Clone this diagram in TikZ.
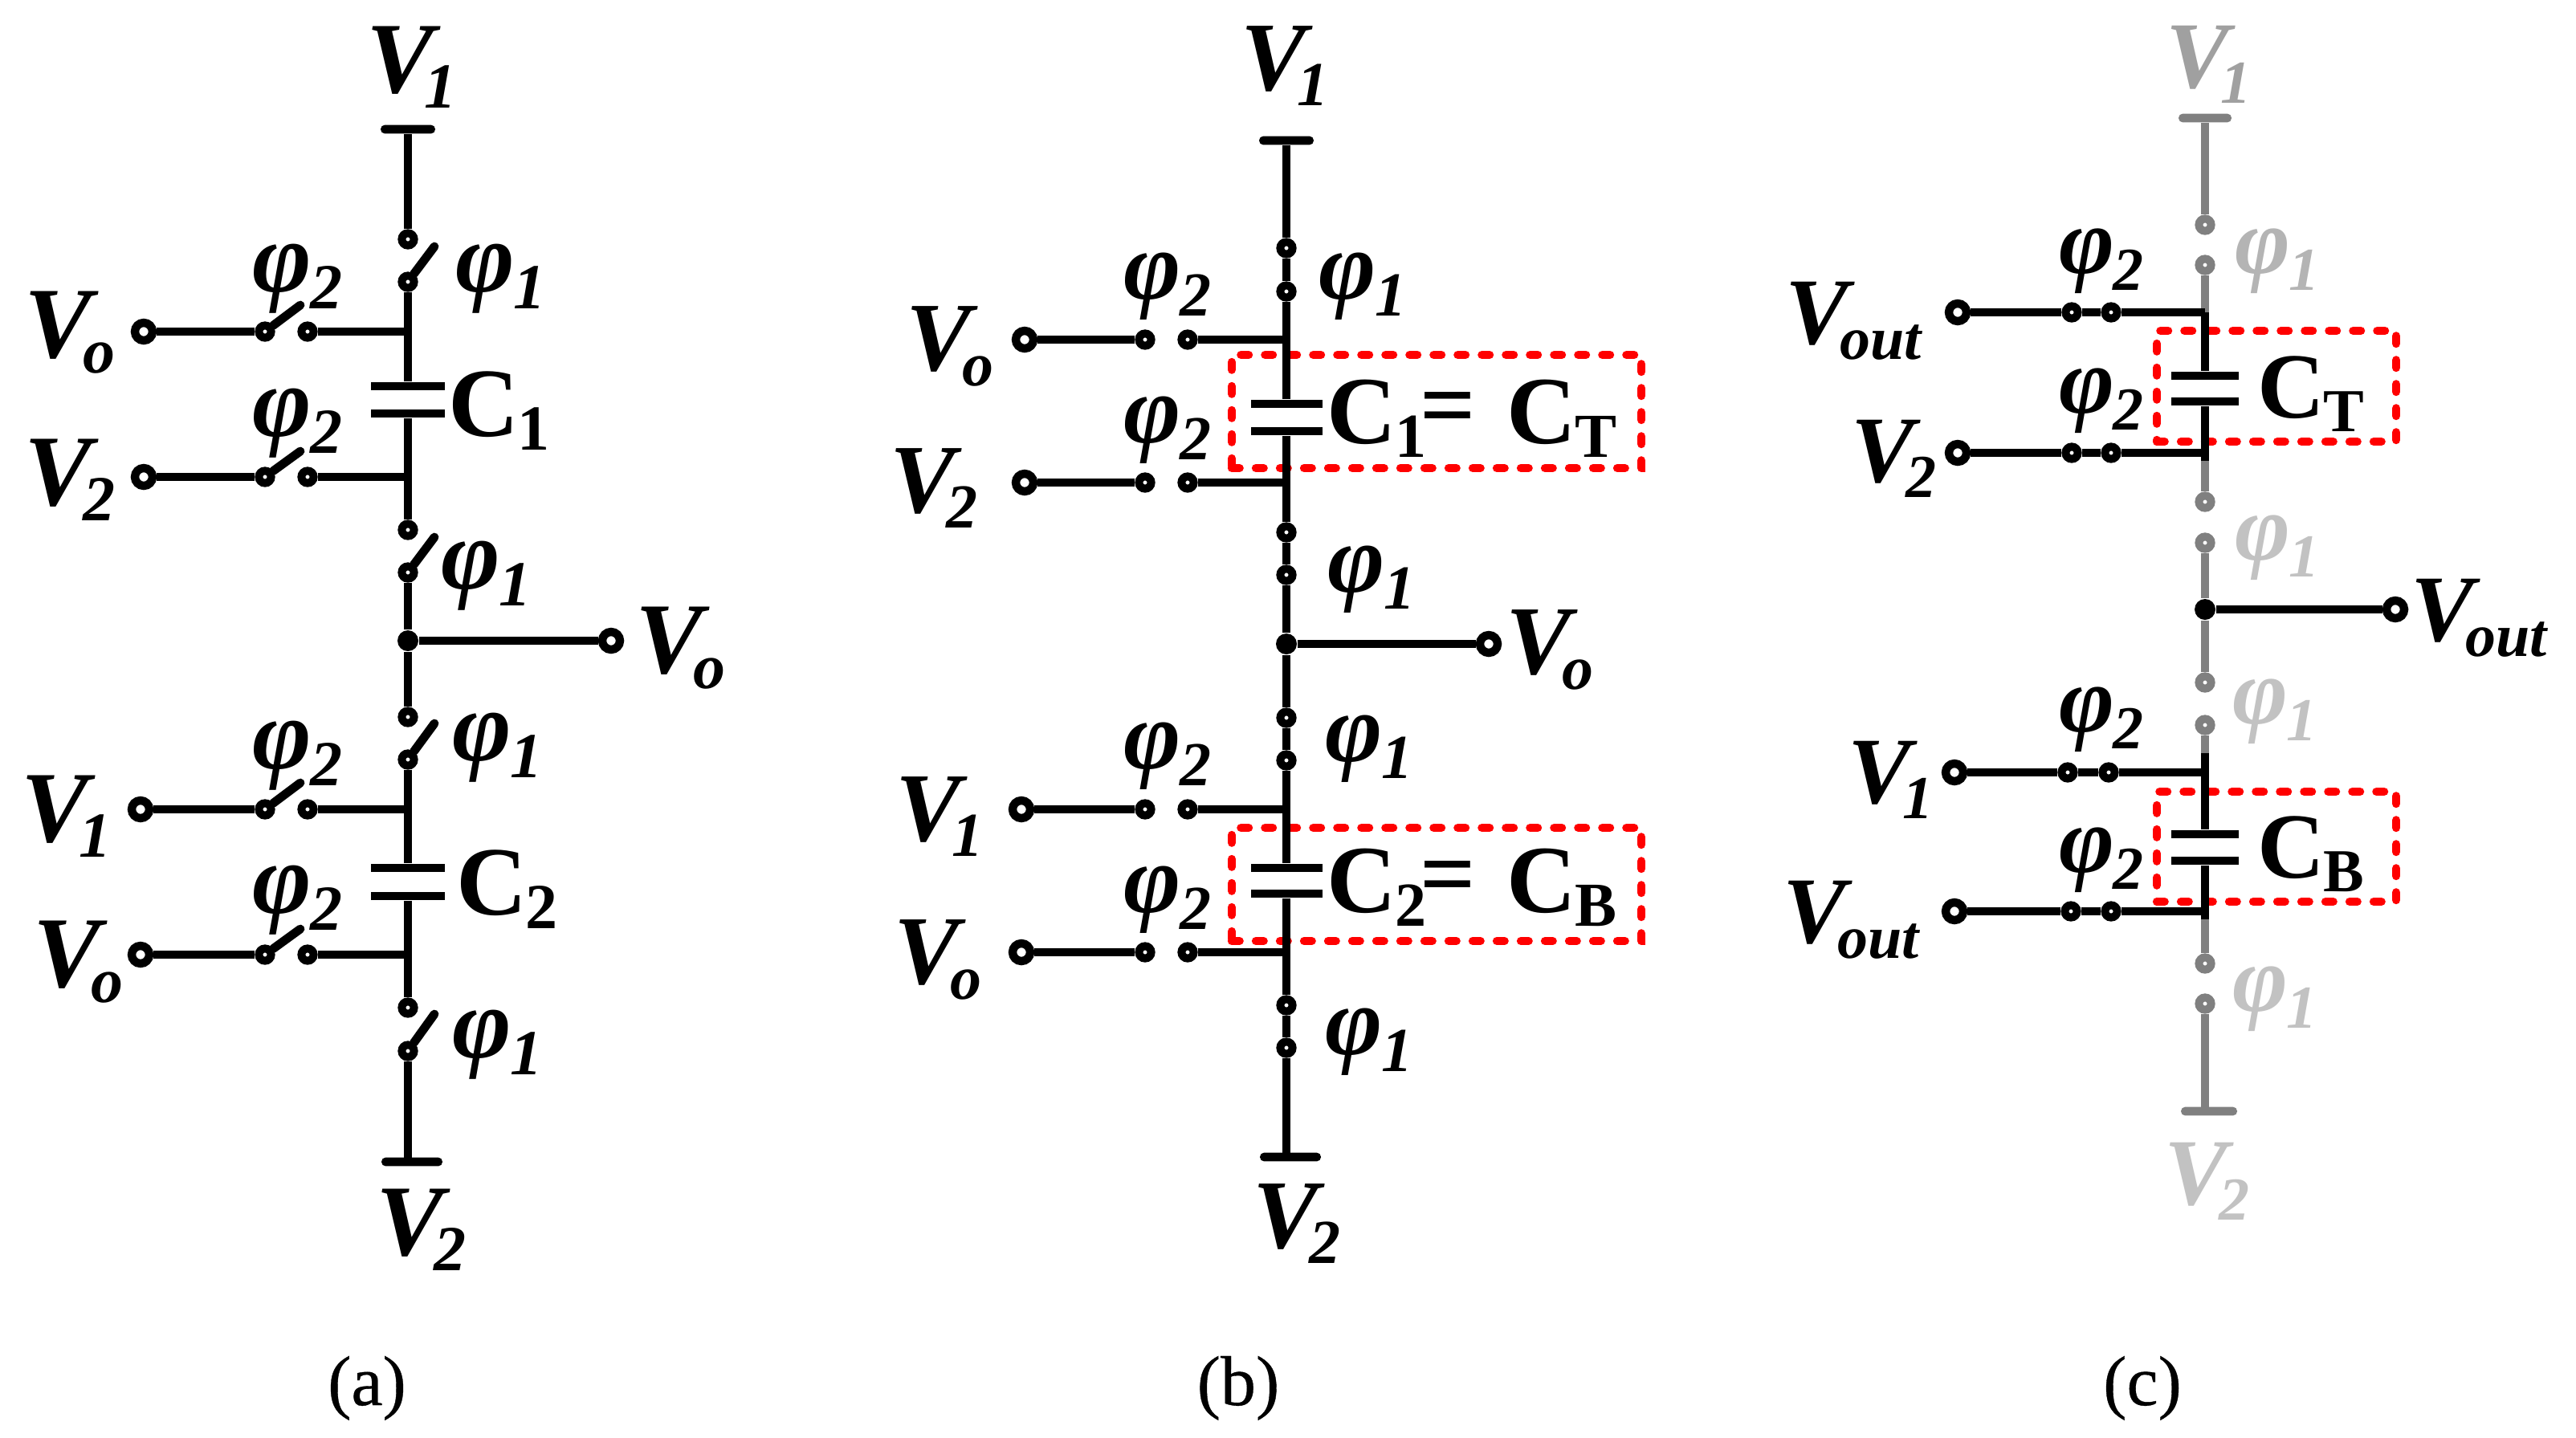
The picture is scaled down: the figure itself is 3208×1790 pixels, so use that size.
\documentclass[tikz,border=0pt]{standalone}
\usepackage{fontspec}
\setmainfont{Liberation Serif}
\newfontfamily\capf[FakeBold=0.4]{Liberation Serif}
\usetikzlibrary{calc}
\newcommand\setp[3]{\gdef\bigf{\fontsize{#1}{#1}\selectfont}\gdef\smf{\fontsize{#2}{#2}\selectfont}\gdef\cf{\fontsize{#3}{#3}\selectfont}}
\newcommand\VL[1]{\bigf\bfseries\itshape V\kern-.09em\raisebox{-4.75pt}{\smf #1}}
\newcommand\PH[1]{\bigf\bfseries\itshape φ\kern-.01em\raisebox{-5.25pt}{\smf #1}}
\newcommand\CP[1]{\cf\bfseries C\kern-.01em\raisebox{-4.25pt}{\smf #1}}
\definecolor{gw}{HTML}{808080}
\definecolor{g1}{HTML}{A0A0A0}
\definecolor{g2}{HTML}{B4B4B4}
\definecolor{g3}{HTML}{C2C2C2}
\begin{document}
\begin{tikzpicture}[x=0.25pt,y=-0.25pt,
  lab/.style={anchor=base west,inner sep=0pt,outer sep=0pt},
  term/.style={circle,draw=black,fill=white,line width=2.6pt,minimum size=5.5pt,inner sep=0pt},
  cont/.style={circle,draw=black,fill=white,line width=2.5pt,minimum size=3.8pt,inner sep=0pt},
  gcont/.style={cont,draw=gw},
  jdot/.style={circle,fill=black,minimum size=6.5pt,inner sep=0pt},
  plate/.style={rectangle,fill=black,inner sep=0pt,minimum height=2.7pt},
  rail/.style={rectangle,fill=black,rounded corners=1.3pt,inner sep=0pt,minimum height=2.7pt},
  wire/.style={line width=2.7pt},
  gwire/.style={line width=2.6pt,draw=gw},
  cwire/.style={line width=2.6pt},
  blade/.style={line width=2.7pt,line cap=round},
  redbox/.style={rectangle,draw=red,line width=2.6pt,line cap=round,dash pattern=on 2.4pt off 5.1pt,inner sep=0pt},
  capt/.style={anchor=base,inner sep=0pt,font=\capf\fontsize{22}{22}\selectfont}]
\useasboundingbox (0,0) rectangle (3208,1790);
\fill[white] (0,0) rectangle (3208,1790);

%% ---------- panel (a)
\setp{31.5}{20}{30.5}
\node[rail,minimum width=17pt] (aT) at (508,161) {};
\node[rail,minimum width=19pt] (aB) at (513,1447) {};
\node[cont] (as1) at (508,298) {}; \node[cont] (as2) at (508,351) {};
\node[cont] (as3) at (508,660) {}; \node[cont] (as4) at (508,713) {};
\node[cont] (as5) at (508,893) {}; \node[cont] (as6) at (508,946) {};
\node[cont] (as7) at (508,1255) {}; \node[cont] (as8) at (508,1309) {};
\coordinate (at1) at (541,307); \coordinate (at2) at (541,669);
\coordinate (at3) at (541,901); \coordinate (at4) at (541,1263);
\node[plate,minimum width=23pt] (aC1t) at (508,481) {};
\node[plate,minimum width=23pt] (aC1b) at (508,515) {};
\node[plate,minimum width=23pt] (aC2t) at (508,1081) {};
\node[plate,minimum width=23pt] (aC2b) at (508,1116) {};
\coordinate (aj1) at (508,413); \coordinate (aj2) at (508,594);
\coordinate (aj3) at (508,1008); \coordinate (aj4) at (508,1189);
\node[jdot] (aJ) at (508,798) {};
\node[term] (aR) at (761,798) {};
\node[term] (al1) at (179,413) {}; \node[term] (al2) at (179,594) {};
\node[term] (al3) at (175,1008) {}; \node[term] (al4) at (175,1189) {};
\node[cont] (ak1) at (330,413) {}; \node[cont] (am1) at (383,413) {};
\node[cont] (ak2) at (330,594) {}; \node[cont] (am2) at (383,594) {};
\node[cont] (ak3) at (330,1008) {}; \node[cont] (am3) at (383,1008) {};
\node[cont] (ak4) at (330,1189) {}; \node[cont] (am4) at (383,1189) {};
\coordinate (au1) at (374,380); \coordinate (au2) at (374,562);
\coordinate (au3) at (374,975); \coordinate (au4) at (374,1157);
\draw[wire] (aT) -- (as1);
\draw[wire] (as2) -- (aC1t);
\draw[wire] (aC1b) -- (as3);
\draw[wire] (as4) -- (aJ); \draw[wire] (aJ) -- (as5);
\draw[wire] (as6) -- (aC2t);
\draw[wire] (aC2b) -- (as7);
\draw[wire] (as8) -- (as8|-aB);
\foreach \i in {1,2,3,4}{
  \draw[wire] (al\i) -- (ak\i);
  \draw[wire] (am\i) -- (aj\i);
  \draw[blade] (ak\i) -- (au\i);
}
\draw[wire] (aJ) -- (aR);
\draw[blade] (as2) -- (at1); \draw[blade] (as4) -- (at2);
\draw[blade] (as6) -- (at3); \draw[blade] (as8) -- (at4);

\node[lab] (aV1) at (456,115) {\VL{1}};
\node[lab] (aV2) at (468,1563) {\VL{2}};
\node[lab] (aVo1) at (31,445) {\VL{o}};
\node[lab] (aVz) at (31,629) {\VL{2}};
\node[lab] (aVy) at (26,1048) {\VL{1}};
\node[lab] (aVo2) at (41,1229) {\VL{o}};
\node[lab] (aVo3) at (791,838) {\VL{o}};
\node[lab] (ap1) at (314,363) {\PH{2}};
\node[lab] (ap2) at (314,543) {\PH{2}};
\node[lab] (ap3) at (314,957) {\PH{2}};
\node[lab] (ap4) at (314,1137) {\PH{2}};
\node[lab] (aq1) at (567,363) {\PH{1}};
\node[lab] (aq2) at (549,733) {\PH{1}};
\node[lab] (aq3) at (563,947) {\PH{1}};
\node[lab] (aq4) at (563,1317) {\PH{1}};
\node[lab] (aC1) at (558,543) {\CP{1}};
\node[lab] (aC2) at (568,1139) {\CP{2}};
\node[capt] (acap) at (457,1750) {(a)};

%% ---------- panel (b)
\setp{30.5}{19.5}{30}
\node[redbox,minimum width=127.5pt,minimum height=35.25pt] (bR1) at (1789,512.5) {};
\node[redbox,minimum width=127.5pt,minimum height=35.25pt] (bR2) at (1789,1101.5) {};
\node[rail,minimum width=17pt] (bT) at (1602,175) {};
\node[rail,minimum width=19pt] (bB) at (1607,1441) {};
\node[cont] (bs1) at (1602,309) {}; \node[cont] (bs2) at (1602,363) {};
\node[cont] (bs3) at (1602,663) {}; \node[cont] (bs4) at (1602,716) {};
\node[cont] (bs5) at (1602,894) {}; \node[cont] (bs6) at (1602,947) {};
\node[cont] (bs7) at (1602,1252) {}; \node[cont] (bs8) at (1602,1305) {};
\node[plate,minimum width=22.25pt] (bC1t) at (1602,503) {};
\node[plate,minimum width=22.25pt] (bC1b) at (1602,537) {};
\node[plate,minimum width=22.25pt] (bC2t) at (1602,1081) {};
\node[plate,minimum width=22.25pt] (bC2b) at (1602,1113) {};
\coordinate (bj1) at (1602,423); \coordinate (bj2) at (1602,601);
\coordinate (bj3) at (1602,1008); \coordinate (bj4) at (1602,1186);
\node[jdot] (bJ) at (1602,802) {};
\node[term] (bRt) at (1854,802) {};
\node[term] (bl1) at (1276,423) {}; \node[term] (bl2) at (1276,601) {};
\node[term] (bl3) at (1272,1008) {}; \node[term] (bl4) at (1272,1186) {};
\node[cont] (bk1) at (1426,423) {}; \node[cont] (bm1) at (1479,423) {};
\node[cont] (bk2) at (1426,601) {}; \node[cont] (bm2) at (1479,601) {};
\node[cont] (bk3) at (1426,1008) {}; \node[cont] (bm3) at (1479,1008) {};
\node[cont] (bk4) at (1426,1186) {}; \node[cont] (bm4) at (1479,1186) {};
\draw[wire] (bT) -- (bs1); \draw[wire] (bs1) -- (bs2);
\draw[wire] (bs2) -- (bC1t); \draw[wire] (bC1b) -- (bs3);
\draw[wire] (bs3) -- (bs4); \draw[wire] (bs4) -- (bJ);
\draw[wire] (bJ) -- (bs5); \draw[wire] (bs5) -- (bs6);
\draw[wire] (bs6) -- (bC2t); \draw[wire] (bC2b) -- (bs7);
\draw[wire] (bs7) -- (bs8); \draw[wire] (bs8) -- (bs8|-bB);
\foreach \i in {1,2,3,4}{
  \draw[wire] (bl\i) -- (bk\i);
  \draw[wire] (bm\i) -- (bj\i);
}
\draw[wire] (bJ) -- (bRt);

\node[lab] (bV1) at (1545,112) {\VL{1}};
\node[lab] (bV2) at (1560,1554) {\VL{2}};
\node[lab] (bVo1) at (1128,461) {\VL{o}};
\node[lab] (bVz) at (1108,638) {\VL{2}};
\node[lab] (bVy) at (1115,1047) {\VL{1}};
\node[lab] (bVo2) at (1113,1225) {\VL{o}};
\node[lab] (bVo3) at (1875,839) {\VL{o}};
\node[lab] (bp1) at (1399,372) {\PH{2}};
\node[lab] (bp2) at (1399,551) {\PH{2}};
\node[lab] (bp3) at (1399,957) {\PH{2}};
\node[lab] (bp4) at (1399,1136) {\PH{2}};
\node[lab] (bq1) at (1642,372) {\PH{1}};
\node[lab] (bq2) at (1653,737) {\PH{1}};
\node[lab] (bq3) at (1650,948) {\PH{1}};
\node[lab] (bq4) at (1650,1313) {\PH{1}};
\node[lab] (bC1) at (1652,552) {\CP{1}};
\node[lab] (bC2) at (1652,1136) {\CP{2}};
\node[lab] (bEq1) at (1768,545) {\bigf\bfseries =};
\node[lab] (bEq2) at (1768,1129) {\bigf\bfseries =};
\node[lab] (bCT) at (1876,552) {\CP{T}};
\node[lab] (bCB) at (1876,1136) {\CP{B}};
\node[capt] (bcap) at (1542,1750) {(b)};

%% ---------- panel (c)
\setp{29.5}{19}{29}
\node[redbox,minimum width=74.5pt,minimum height=34.5pt] (cR1) at (2835,481) {};
\node[redbox,minimum width=74.5pt,minimum height=34.25pt] (cR2) at (2835,1054.5) {};
\node[rail,minimum width=16.5pt,fill=gw] (cT) at (2746,147) {};
\node[rail,minimum width=17.5pt,fill=gw] (cB) at (2751,1384) {};
\node[gcont] (cs1) at (2746,280) {}; \node[gcont] (cs2) at (2746,330) {};
\node[gcont] (cs3) at (2746,625) {}; \node[gcont] (cs4) at (2746,676) {};
\node[gcont] (cs5) at (2746,850) {}; \node[gcont] (cs6) at (2746,903) {};
\node[gcont] (cs7) at (2746,1200) {}; \node[gcont] (cs8) at (2746,1250) {};
\node[plate,minimum width=21pt] (cC1t) at (2746,468) {};
\node[plate,minimum width=21pt] (cC1b) at (2746,500) {};
\node[plate,minimum width=21pt] (cC2t) at (2746,1039) {};
\node[plate,minimum width=21pt] (cC2b) at (2746,1072) {};
\coordinate (cj1) at (2746,389); \coordinate (cj2) at (2746,564);
\coordinate (cj3) at (2746,962); \coordinate (cj4) at (2746,1135);
\coordinate (ce1) at (2746,574); \coordinate (ce3) at (2746,938); \coordinate (ce4) at (2746,1145);
\node[jdot] (cJ) at (2746,759) {};
\node[term] (cRt) at (2983,759) {};
\node[term] (cl1) at (2438,389) {}; \node[term] (cl2) at (2438,564) {};
\node[term] (cl3) at (2434,962) {}; \node[term] (cl4) at (2434,1135) {};
\node[cont] (ck1) at (2580,389) {}; \node[cont] (cm1) at (2629,389) {};
\node[cont] (ck2) at (2580,564) {}; \node[cont] (cm2) at (2629,564) {};
\node[cont] (ck3) at (2575,962) {}; \node[cont] (cm3) at (2626,962) {};
\node[cont] (ck4) at (2579,1135) {}; \node[cont] (cm4) at (2629,1135) {};
\draw[gwire] (cT) -- (cs1); \draw[gwire] (cs2) -- (cj1);
\draw[gwire] (ce1) -- (cs3); \draw[gwire] (cs4) -- (cJ);
\draw[gwire] (cJ) -- (cs5); \draw[gwire] (cs6) -- (ce3);
\draw[gwire] (ce4) -- (cs7); \draw[gwire] (cs8) -- (cs8|-cB);
\draw[cwire] (cj1) -- (cC1t); \draw[cwire] (cC1b) -- (ce1);
\draw[cwire] (ce3) -- (cC2t); \draw[cwire] (cC2b) -- (ce4);
\foreach \i in {1,2,3,4}{
  \draw[cwire] (cl\i) -- (ck\i);
  \draw[cwire] (ck\i) -- (cm\i);
  \draw[cwire] (cm\i) -- (cj\i);
}
\draw[cwire] (cJ) -- (cRt);

\node[lab,text=g1] (cV1) at (2697,109) {\VL{1}};
\node[lab,text=g3] (cV2) at (2695,1500) {\VL{2}};
\node[lab] (cVo1) at (2223,428) {\VL{out}};
\node[lab] (cVz) at (2305,600) {\VL{2}};
\node[lab] (cVy) at (2301,1000) {\VL{1}};
\node[lab] (cVo2) at (2220,1174) {\VL{out}};
\node[lab] (cVo3) at (3002,798) {\VL{out}};
\node[lab] (cp1) at (2564,340) {\PH{2}};
\node[lab] (cp2) at (2564,514) {\PH{2}};
\node[lab] (cp3) at (2564,911) {\PH{2}};
\node[lab] (cp4) at (2564,1086) {\PH{2}};
\node[lab,text=g2] (cq1) at (2783,340) {\PH{1}};
\node[lab,text=g3] (cq2) at (2783,697) {\PH{1}};
\node[lab,text=g3] (cq3) at (2780,901) {\PH{1}};
\node[lab,text=g3] (cq4) at (2780,1259) {\PH{1}};
\node[lab] (cCT) at (2811,520) {\CP{T}};
\node[lab] (cCB) at (2811,1093) {\CP{B}};
\node[capt] (ccap) at (2668,1750) {(c)};
\end{tikzpicture}
\end{document}
